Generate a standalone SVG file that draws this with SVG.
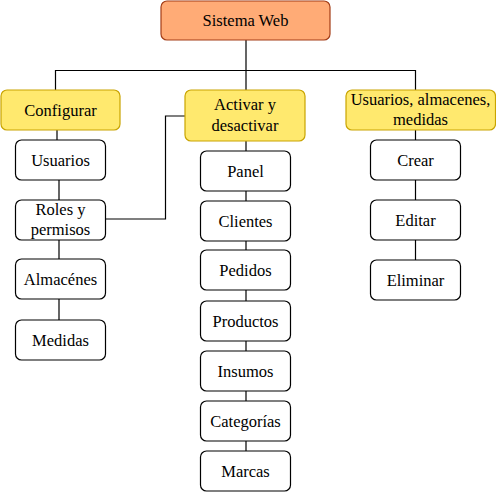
<svg xmlns="http://www.w3.org/2000/svg" width="496" height="492" viewBox="0 0 496 492" font-family="Liberation Serif, Times New Roman, serif" font-size="16.5" text-anchor="middle">
<style>
.box{fill:#fff;stroke:#000;stroke-width:1.2}
.cat{fill:#FFE96E;stroke:#C9A400;stroke-width:1.2}
.root{fill:#FFAB76;stroke:#A33D17;stroke-width:1.2}
.edge{fill:none;stroke:#000;stroke-width:1.2}
</style>
<rect width="496" height="492" fill="#fff"/>
<g id="connectors">
<path class="edge" d="M246 40V151M55.5 90V70.5H415.5V90"/>
<path class="edge" d="M57 130V140M59 180V200M59 240V259M59 299V320"/>
<path class="edge" d="M105.5 219H165.5V116H185"/>
<path class="edge" d="M246 191V201M246 241V250M246 290V301M246 341V351M246 391V401M246 441V451"/>
<path class="edge" d="M415.5 130V140M415.5 180V200M415.5 240V260"/>
</g>
<g id="n-sistema"><rect class="root" x="161" y="1" width="169" height="39" rx="6"/><text x="245.5" y="26">Sistema Web</text></g>
<g id="n-configurar"><rect class="cat" x="1" y="90" width="119" height="40" rx="6"/><text x="60.5" y="116">Configurar</text></g>
<g id="n-activar"><rect class="cat" x="185" y="90" width="120" height="51" rx="6"/><text x="245" y="110">Activar y</text><text x="245" y="131">desactivar</text></g>
<g id="n-uam"><rect class="cat" x="346" y="90" width="149.5" height="40" rx="6"/><text x="420.5" y="105">Usuarios, almacenes,</text><text x="420.5" y="125">medidas</text></g>
<g id="n-usuarios"><rect class="box" x="15.5" y="140" width="90" height="40" rx="6"/><text x="60.5" y="166">Usuarios</text></g>
<g id="n-roles"><rect class="box" x="15.5" y="200" width="90" height="40" rx="6"/><text x="60.5" y="215">Roles y</text><text x="60.5" y="235">permisos</text></g>
<g id="n-almacenes"><rect class="box" x="15.5" y="259" width="90" height="40" rx="6"/><text x="60.5" y="285">Almacénes</text></g>
<g id="n-medidas"><rect class="box" x="15.5" y="320" width="90" height="40" rx="6"/><text x="60.5" y="346">Medidas</text></g>
<g id="n-panel"><rect class="box" x="200.5" y="151" width="90" height="40" rx="6"/><text x="245.5" y="177">Panel</text></g>
<g id="n-clientes"><rect class="box" x="200.5" y="201" width="90" height="40" rx="6"/><text x="245.5" y="227">Clientes</text></g>
<g id="n-pedidos"><rect class="box" x="200.5" y="250" width="90" height="40" rx="6"/><text x="245.5" y="276">Pedidos</text></g>
<g id="n-productos"><rect class="box" x="200.5" y="301" width="90" height="40" rx="6"/><text x="245.5" y="327">Productos</text></g>
<g id="n-insumos"><rect class="box" x="200.5" y="351" width="90" height="40" rx="6"/><text x="245.5" y="377">Insumos</text></g>
<g id="n-categorias"><rect class="box" x="200.5" y="401" width="90" height="40" rx="6"/><text x="245.5" y="427">Categorías</text></g>
<g id="n-marcas"><rect class="box" x="200.5" y="451" width="90" height="40" rx="6"/><text x="245.5" y="477">Marcas</text></g>
<g id="n-crear"><rect class="box" x="370.5" y="140" width="90" height="40" rx="6"/><text x="415.5" y="166">Crear</text></g>
<g id="n-editar"><rect class="box" x="370.5" y="200" width="90" height="40" rx="6"/><text x="415.5" y="226">Editar</text></g>
<g id="n-eliminar"><rect class="box" x="370.5" y="260" width="90" height="40" rx="6"/><text x="415.5" y="286">Eliminar</text></g>
</svg>
